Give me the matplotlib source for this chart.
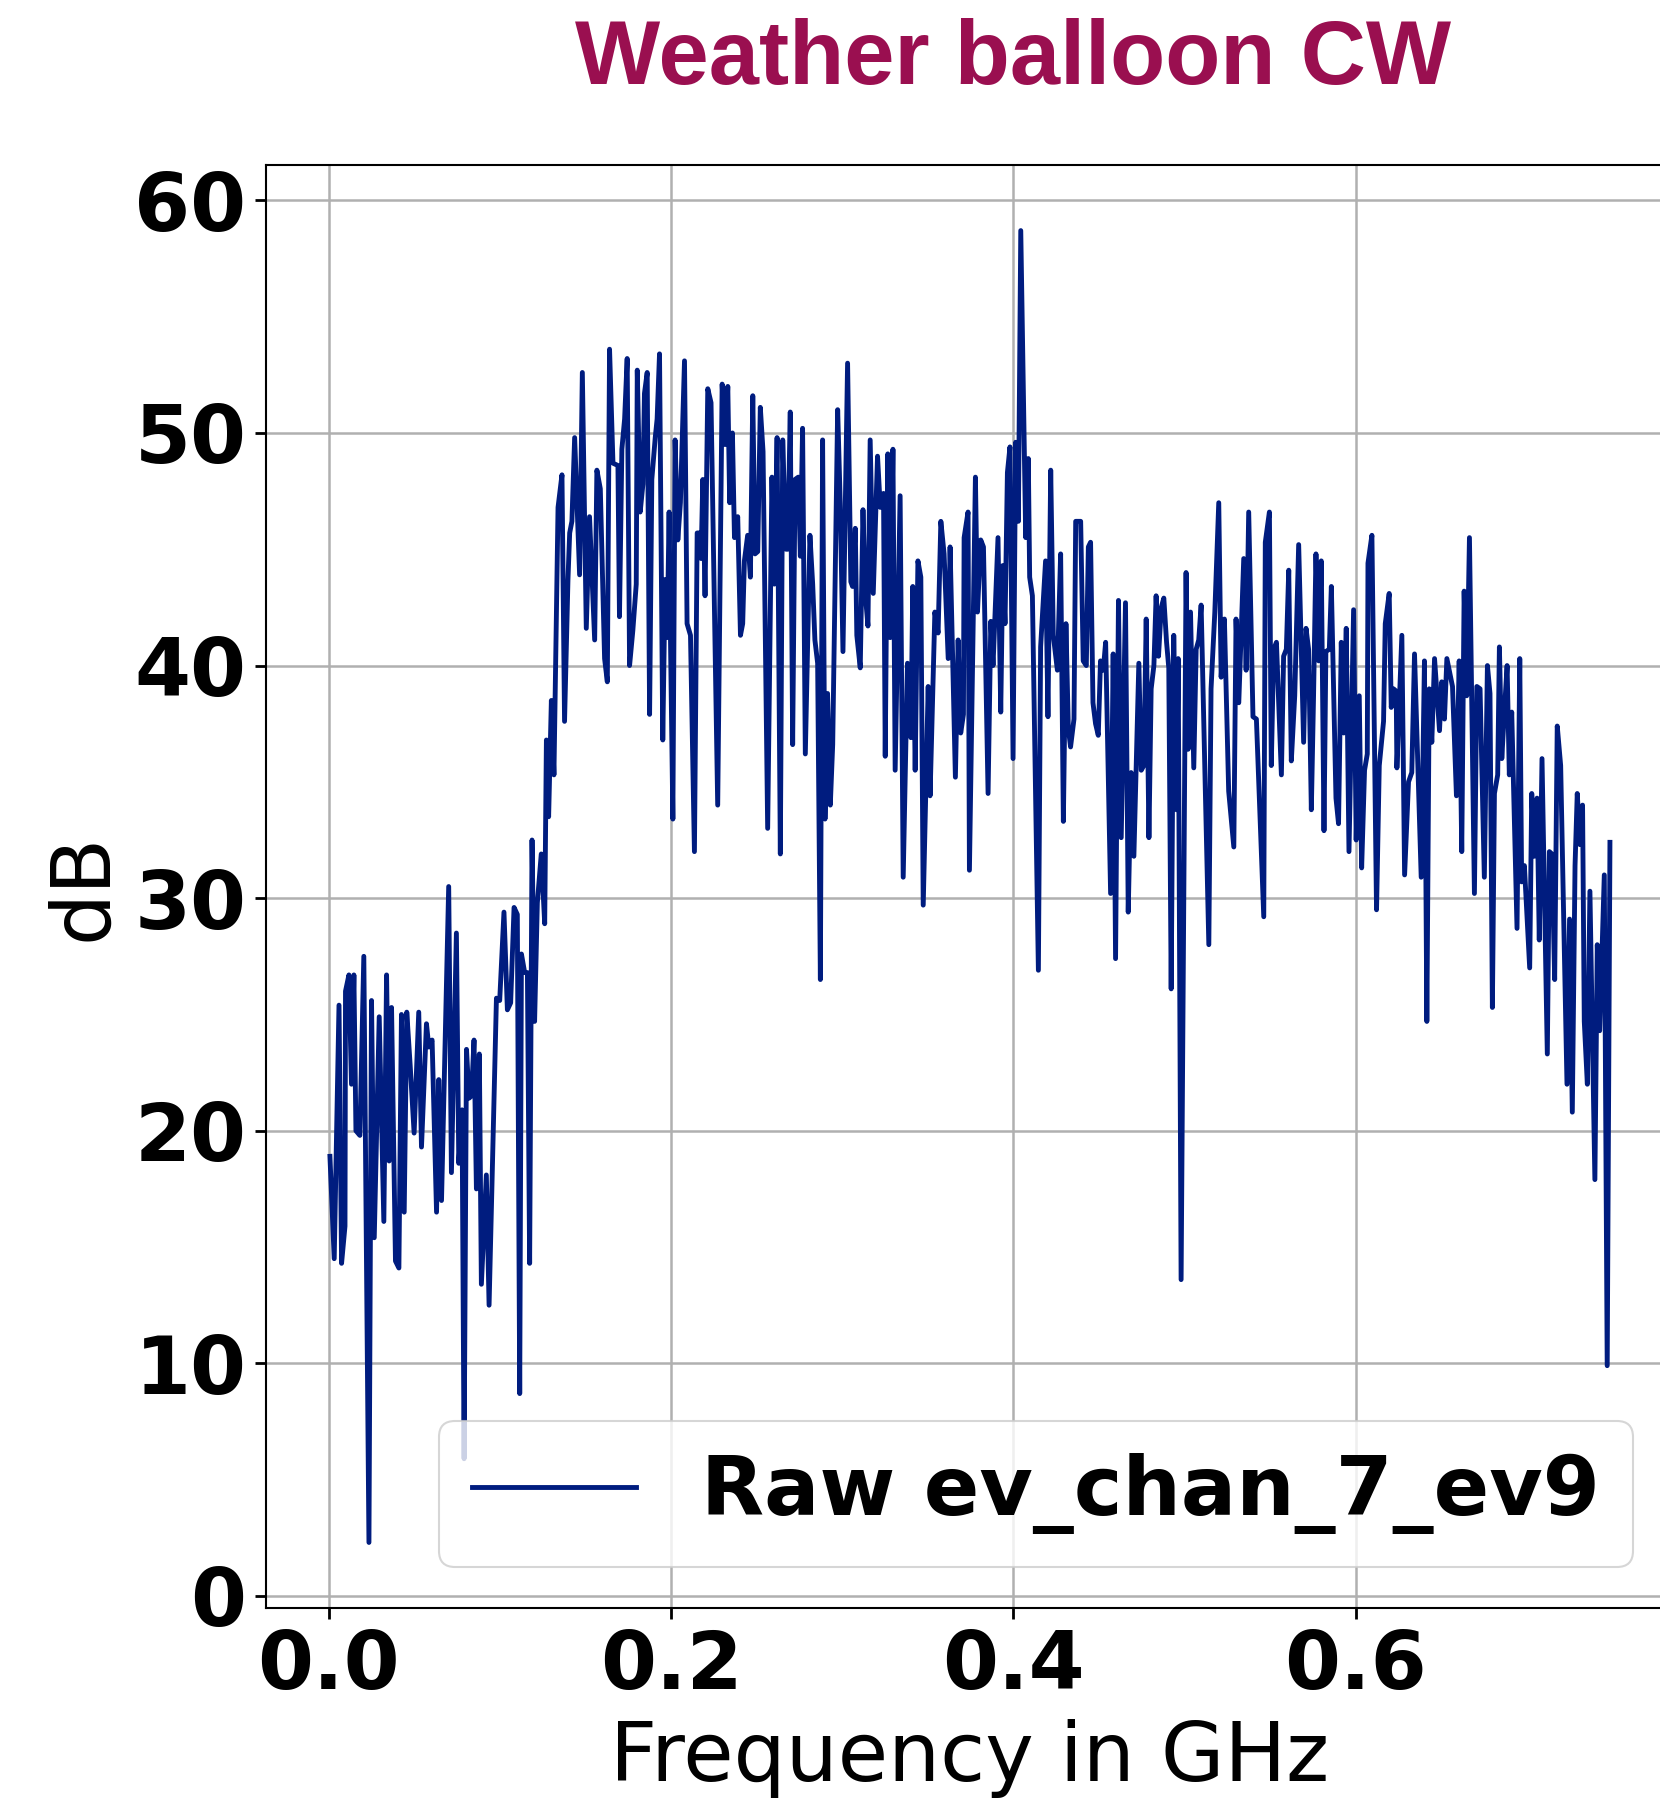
import matplotlib
matplotlib.use("Agg")
import matplotlib.pyplot as plt

title = "Weather balloon CW"
series_label = "Raw ev_chan_7_ev9"
x_label = "Frequency in GHz"
y_label = "dB"
x_ticks = [0.0, 0.2, 0.4, 0.6]
y_ticks = [0, 10, 20, 30, 40, 50, 60]

# spectrum, GHz / dB
freq_ghz = [
    0.0006, 0.0031, 0.0059, 0.0074, 0.0094, 0.0097, 0.0117, 0.0132, 0.0146, 0.0158,
    0.0181, 0.0204, 0.0234, 0.0249, 0.0265, 0.0294, 0.0321, 0.0337, 0.0352, 0.0366,
    0.0389, 0.0409, 0.0424, 0.0440, 0.0455, 0.0475, 0.0498, 0.0525, 0.0541, 0.0570,
    0.0584, 0.0603, 0.0629, 0.0642, 0.0658, 0.0700, 0.0716, 0.0745, 0.0759, 0.0778,
    0.0790, 0.0804, 0.0819, 0.0833, 0.0848, 0.0862, 0.0879, 0.0891, 0.0920, 0.0936,
    0.0979, 0.0998, 0.1023, 0.1043, 0.1062, 0.1082, 0.1101, 0.1115, 0.1125, 0.1144,
    0.1160, 0.1173, 0.1187, 0.1202,
    0.1218, 0.1241, 0.1261, 0.1271, 0.1284, 0.1300, 0.1315, 0.1339, 0.1362, 0.1377,
    0.1397, 0.1407, 0.1420, 0.1436, 0.1465, 0.1481, 0.1504, 0.1523, 0.1553, 0.1566,
    0.1586, 0.1611, 0.1627, 0.1640, 0.1660, 0.1689, 0.1698, 0.1712, 0.1728, 0.1743,
    0.1757, 0.1776, 0.1796, 0.1802, 0.1819, 0.1835, 0.1844, 0.1860, 0.1874, 0.1887,
    0.1907, 0.1918, 0.1932, 0.1951, 0.1965, 0.1977, 0.1988, 0.1996, 0.2010, 0.2023,
    0.2039, 0.2054, 0.2078, 0.2093, 0.2113, 0.2136, 0.2152, 0.2165, 0.2175, 0.2185,
    0.2198, 0.2214, 0.2233, 0.2272, 0.2298, 0.2315, 0.2331, 0.2342, 0.2358, 0.2370,
    0.2389, 0.2405, 0.2418, 0.2428, 0.2447, 0.2463, 0.2477, 0.2490, 0.2506, 0.2521,
    0.2537, 0.2564, 0.2589, 0.2603, 0.2619, 0.2626, 0.2638, 0.2652, 0.2671, 0.2681,
    0.2696, 0.2710, 0.2724, 0.2743, 0.2755, 0.2768, 0.2784, 0.2811, 0.2827, 0.2840,
    0.2856, 0.2872, 0.2885, 0.2899, 0.2914, 0.2930, 0.2944, 0.2973, 0.2988, 0.3004,
    0.3031, 0.3050, 0.3060, 0.3076, 0.3085, 0.3105, 0.3121, 0.3134, 0.3150, 0.3163,
    0.3181, 0.3206, 0.3222, 0.3241, 0.3251, 0.3266, 0.3280, 0.3296, 0.3309, 0.3338,
    0.3356, 0.3381, 0.3401, 0.3412, 0.3426, 0.3442, 0.3459, 0.3473, 0.3502, 0.3513,
    0.3541, 0.3560, 0.3576, 0.3595, 0.3619, 0.3630, 0.3661, 0.3677, 0.3692, 0.3708,
    0.3712, 0.3735, 0.3743,
    0.3778, 0.3790, 0.3809, 0.3825, 0.3852, 0.3868, 0.3881, 0.3910, 0.3926, 0.3938,
    0.3951, 0.3965, 0.3980, 0.3998, 0.4013, 0.4029, 0.4043, 0.4072, 0.4087, 0.4095,
    0.4111, 0.4146, 0.4159, 0.4188, 0.4202, 0.4218, 0.4233, 0.4257, 0.4276, 0.4292,
    0.4307, 0.4321, 0.4334, 0.4354, 0.4364, 0.4393, 0.4408, 0.4426, 0.4438, 0.4451,
    0.4465, 0.4480, 0.4496, 0.4509, 0.4525, 0.4539, 0.4568, 0.4583, 0.4597, 0.4614,
    0.4630, 0.4655, 0.4671, 0.4688, 0.4704, 0.4733, 0.4747, 0.4762, 0.4776, 0.4792,
    0.4805, 0.4821, 0.4834, 0.4848, 0.4864, 0.4879, 0.4895, 0.4908, 0.4922, 0.4937,
    0.4953, 0.4963, 0.4980, 0.5009, 0.5021, 0.5035, 0.5054, 0.5068, 0.5083, 0.5097,
    0.5142, 0.5155, 0.5177, 0.5200, 0.5214, 0.5233, 0.5258, 0.5288, 0.5301, 0.5317,
    0.5346, 0.5360, 0.5375, 0.5400, 0.5420, 0.5463, 0.5472, 0.5496, 0.5507, 0.5521,
    0.5537, 0.5566, 0.5579, 0.5595, 0.5609, 0.5624, 0.5644, 0.5667, 0.5696, 0.5710,
    0.5725, 0.5741, 0.5754, 0.5768, 0.5784, 0.5799, 0.5815, 0.5826, 0.5846, 0.5858,
    0.5885, 0.5900, 0.5916, 0.5930, 0.5945, 0.5961, 0.5988, 0.6003, 0.6021, 0.6035,
    0.6052, 0.6068, 0.6072, 0.6095, 0.6122, 0.6138, 0.6163, 0.6173, 0.6196, 0.6208,
    0.6221, 0.6237, 0.6241, 0.6270, 0.6286,
    0.6309, 0.6328, 0.6344, 0.6383, 0.6402, 0.6416, 0.6430, 0.6445, 0.6461, 0.6490,
    0.6503, 0.6519, 0.6533, 0.6566, 0.6589, 0.6605, 0.6620, 0.6634, 0.6649, 0.6665,
    0.6694, 0.6708, 0.6727, 0.6752, 0.6770, 0.6785, 0.6799, 0.6811, 0.6830, 0.6840,
    0.6854, 0.6869, 0.6885, 0.6898, 0.6912, 0.6943, 0.6959, 0.6970, 0.6986, 0.7017,
    0.7029, 0.7044, 0.7060, 0.7073, 0.7089, 0.7120, 0.7132, 0.7147, 0.7163, 0.7178,
    0.7198, 0.7235, 0.7250, 0.7266, 0.7282, 0.7295, 0.7311, 0.7326, 0.7336, 0.7354,
    0.7369, 0.7398, 0.7412, 0.7426, 0.7453, 0.7470, 0.7486,
]
power_db = [
    18.9, 14.5, 25.4, 14.3, 15.9, 26.0, 26.7, 22.0, 26.7, 20.0,
    19.8, 27.5, 2.3, 25.6, 15.4, 24.9, 16.1, 26.7, 18.7, 25.3,
    14.4, 14.1, 25.0, 16.5, 25.1, 22.8, 19.9, 25.1, 19.3, 24.6,
    23.6, 23.9, 16.5, 22.2, 17.0, 30.5, 18.2, 28.5, 18.6, 20.9,
    5.9, 23.5, 21.4, 21.5, 23.9, 17.5, 23.3, 13.4, 18.1, 12.5,
    25.7, 25.6, 29.4, 25.2, 25.5, 29.6, 29.3, 8.7, 27.6, 26.8,
    26.8, 14.3, 32.5, 24.7,
    29.8, 31.9, 28.9, 36.8, 33.5, 38.5, 35.3, 46.8, 48.2, 37.6,
    43.7, 45.7, 46.2, 49.8, 43.9, 52.6, 41.6, 46.4, 41.1, 48.4,
    47.6, 40.3, 39.3, 53.6, 48.7, 48.6, 42.1, 49.3, 50.6, 53.2,
    40.0, 41.5, 43.5, 52.7, 46.6, 47.8, 51.7, 52.6, 37.9, 48.0,
    49.8, 50.6, 53.4, 36.8, 43.7, 41.2, 46.6, 41.2, 33.4, 49.7,
    45.4, 47.0, 53.1, 41.8, 41.3, 32.0, 45.7, 45.7, 44.6, 48.0,
    43.0, 51.9, 51.3, 34.0, 52.1, 49.5, 52.0, 47.0, 50.0, 45.5,
    46.4, 41.3, 41.8, 44.5, 45.6, 43.8, 51.6, 44.8, 44.9, 51.1,
    49.2, 33.0, 48.1, 43.5, 49.8, 43.5, 31.9, 49.7, 45.0, 45.0,
    50.9, 36.6, 48.0, 48.1, 44.7, 50.2, 36.2, 45.6, 43.5, 41.1,
    40.1, 26.5, 49.7, 33.4, 38.8, 34.0, 36.6, 51.0, 47.0, 40.6,
    53.0, 43.6, 43.4, 45.9, 41.3, 39.9, 46.7, 43.1, 41.7, 49.7,
    43.1, 49.0, 46.8, 47.4, 36.1, 49.1, 41.2, 49.3, 35.5, 47.3,
    30.9, 40.1, 36.9, 43.4, 35.5, 44.5, 43.8, 29.7, 39.1, 34.4,
    42.3, 41.4, 46.2, 44.8, 40.3, 45.1, 35.2, 41.1, 37.1, 37.9,
    45.5, 46.6, 31.2,
    48.1, 42.3, 45.4, 45.1, 34.5, 41.9, 40.0, 45.5, 38.0, 44.3,
    41.8, 48.3, 49.4, 36.0, 49.6, 46.2, 58.7, 45.5, 48.9, 43.8,
    43.0, 26.9, 40.8, 44.5, 37.8, 48.4, 41.3, 39.8, 44.8, 33.3,
    41.8, 37.3, 36.5, 37.7, 46.2, 46.2, 40.2, 40.0, 45.1, 45.3,
    38.4, 37.5, 37.0, 40.2, 39.8, 41.0, 30.2, 40.5, 27.4, 42.8,
    32.6, 42.7, 29.4, 35.4, 31.8, 40.1, 35.5, 35.7, 42.0, 32.6,
    39.0, 40.0, 43.0, 40.4, 42.5, 42.9, 41.0, 39.9, 26.1, 41.3,
    33.8, 40.3, 13.6, 44.0, 36.4, 42.3, 35.6, 40.7, 41.1, 42.6,
    28.0, 39.0, 42.3, 47.0, 39.5, 42.0, 34.6, 32.2, 42.0, 38.4,
    44.6, 39.8, 46.6, 37.8, 37.7, 29.2, 45.3, 46.6, 35.7, 40.7,
    41.0, 35.3, 40.4, 40.7, 44.1, 35.9, 38.7, 45.2, 36.7, 41.6,
    40.7, 33.8, 38.7, 44.8, 40.2, 44.5, 32.9, 40.6, 40.7, 43.4,
    34.3, 33.2, 41.0, 37.1, 41.6, 32.0, 42.4, 32.5, 38.7, 31.3,
    35.5, 36.2, 44.4, 45.6, 29.5, 35.7, 37.6, 41.8, 43.1, 38.2,
    39.0, 38.9, 35.6, 41.3, 31.0,
    35.0, 35.4, 40.5, 30.9, 40.2, 24.7, 39.0, 36.7, 40.3, 37.2,
    39.3, 37.7, 40.3, 39.1, 34.4, 40.2, 32.0, 43.2, 38.7, 45.5,
    30.2, 39.1, 39.0, 30.9, 40.0, 38.8, 25.3, 34.5, 35.3, 40.8,
    36.0, 38.0, 40.0, 35.3, 38.0, 28.7, 40.3, 30.7, 31.4, 27.0,
    34.5, 31.8, 34.3, 28.2, 36.0, 23.3, 32.0, 31.9, 26.5, 37.4,
    35.7, 22.0, 29.1, 20.8, 31.4, 34.5, 32.3, 34.0, 24.7, 22.0,
    30.3, 17.9, 28.0, 24.3, 31.0, 9.9, 32.4,
]

fig = plt.figure(figsize=(16.6, 18.05), dpi=100)
# axes run a little past the right edge, as in the reference crop
ax = fig.add_axes([0.1602, 0.1091, 0.8482, 0.7995])

ax.plot(freq_ghz, power_db, color="#001c7f", lw=3.5, label=series_label)

ax.grid(True, color="#b0b0b0", lw=1.8)
ax.set_axisbelow(True)
ax.set_xticks(x_ticks)
ax.set_yticks(y_ticks)
ax.tick_params(labelsize=58, width=2, length=8, pad=6)
for lbl in ax.get_xticklabels() + ax.get_yticklabels():
    lbl.set_fontweight("bold")
for sp in ax.spines.values():
    sp.set_linewidth(1.5)

ax.set_xlabel(x_label, fontsize=59, labelpad=10)
ax.set_ylabel(y_label, fontsize=59, labelpad=8)

leg = ax.legend(loc="lower right", prop={"size": 59, "weight": "bold"})
leg.get_frame().set_linewidth(1.5)

fig.text(0.61, 0.9535, title, ha="center", va="baseline", fontsize=65,
         fontweight="bold", color="#9a0f50", family="Liberation Sans")

fig.savefig("out.png", dpi=100)
